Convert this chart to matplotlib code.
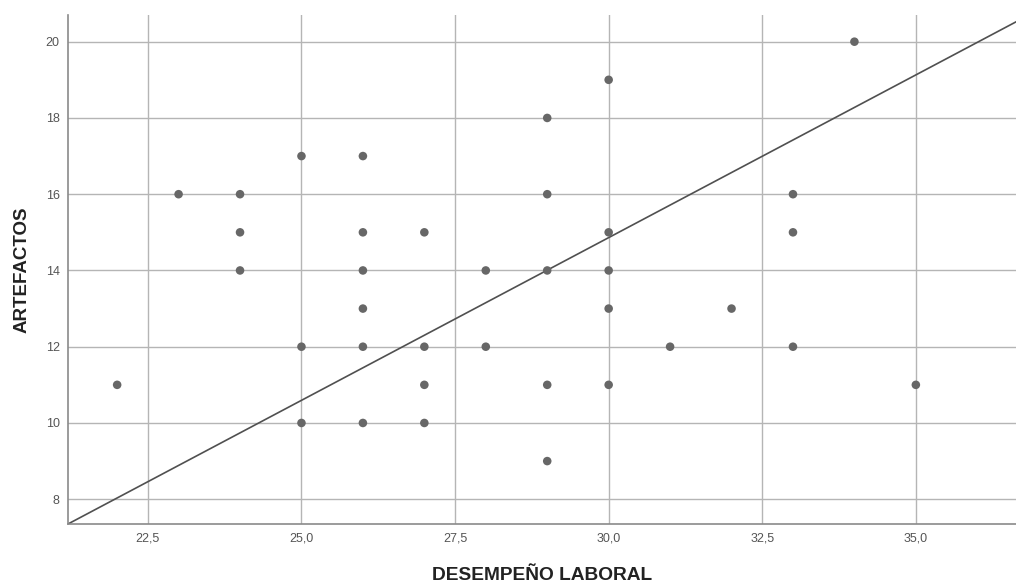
import matplotlib
matplotlib.use("Agg")
import matplotlib.pyplot as plt
from matplotlib.ticker import FuncFormatter

# Data (DESEMPEÑO LABORAL, ARTEFACTOS)
desempeno = [22, 23, 24, 24, 24, 25, 25, 25, 26, 26, 26, 26, 26, 26,
             27, 27, 27, 27, 28, 28, 29, 29, 29, 29, 29,
             30, 30, 30, 30, 30, 31, 32, 33, 33, 33, 34, 35]
artefactos = [11, 16, 16, 15, 14, 17, 12, 10, 17, 15, 14, 13, 12, 10,
              15, 12, 11, 10, 14, 12, 18, 16, 14, 11, 9,
              19, 15, 14, 13, 11, 12, 13, 16, 15, 12, 20, 11]

# Fit line: endpoints
line_x = [21.2, 36.63]
line_y = [7.35, 20.52]

xticks = [22.5, 25.0, 27.5, 30.0, 32.5, 35.0]
yticks = [8, 10, 12, 14, 16, 18, 20]

plt.rcParams['font.family'] = ['Liberation Sans', 'DejaVu Sans']

fig = plt.figure(figsize=(10.16, 5.84), dpi=100)
ax = fig.add_axes([68/1016, 1 - 524/584, 1 - 68/1016, (524 - 15)/584])

ax.set_xlim(21.2, 36.63)
ax.set_ylim(7.35, 20.7)

ax.set_xticks(xticks)
ax.set_yticks(yticks)
ax.xaxis.set_major_formatter(FuncFormatter(lambda v, p: f"{v:.1f}".replace('.', ',')))
ax.yaxis.set_major_formatter(FuncFormatter(lambda v, p: f"{int(v)}"))
ax.tick_params(axis='both', length=0, labelsize=9, labelcolor='#555555', pad=6)

ax.grid(True, color='#b5b5b5', linewidth=1.0)
ax.set_axisbelow(True)

for s in ['top', 'right']:
    ax.spines[s].set_visible(False)
for s in ['left', 'bottom']:
    ax.spines[s].set_color('#8a8a8a')
    ax.spines[s].set_linewidth(1.2)

ax.plot(line_x, line_y, color='#505050', linewidth=1.2, zorder=2)
ax.scatter(desempeno, artefactos, s=38, color='#676767', edgecolors='none', zorder=3)

ax.set_xlabel('DESEMPEÑO LABORAL', fontsize=13.8, fontweight='bold', color='#222222', labelpad=16)
ax.set_ylabel('ARTEFACTOS', fontsize=13.5, fontweight='bold', color='#222222', labelpad=11)

fig.savefig('out.png', dpi=100)
